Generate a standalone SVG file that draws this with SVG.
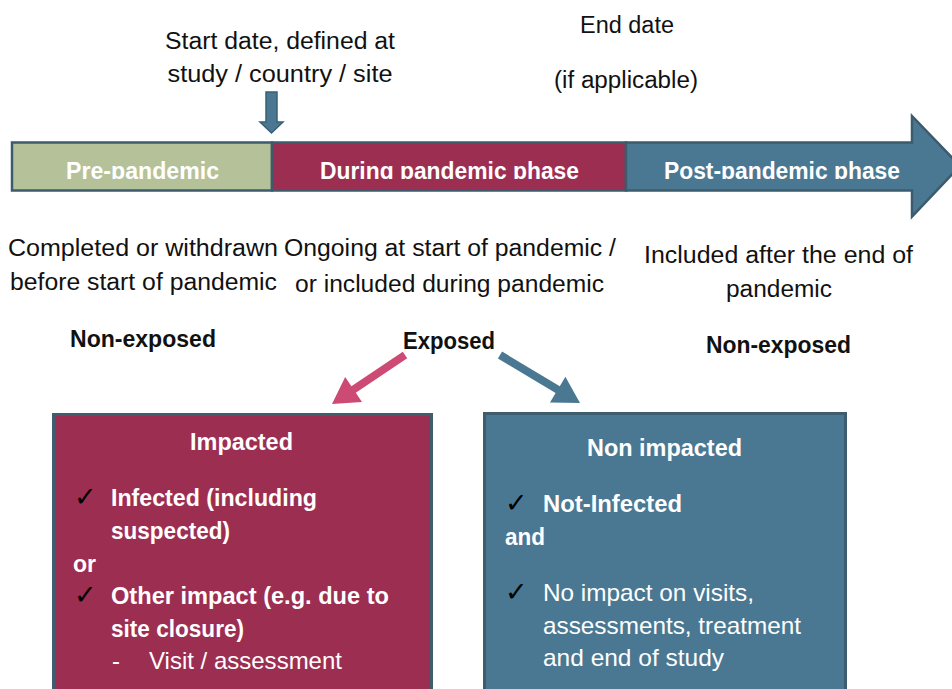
<svg xmlns="http://www.w3.org/2000/svg" width="952" height="689" viewBox="0 0 952 689">
  <style>
    text { font-family: "Liberation Sans", Arial, sans-serif; }
    .note { font-size: 23px; fill: #111; }
    .lbl { font-size: 23px; font-weight: bold; fill: #111; }
    .bar { font-size: 23px; font-weight: bold; fill: #ffffff; }
    .bt { font-size: 23px; font-weight: bold; fill: #ffffff; }
    .rt { font-size: 24px; fill: #ffffff; }
    .tick { font-family: "DejaVu Sans", sans-serif; font-size: 27px; fill: #000; }
    .seg { stroke: #3c5c6e; stroke-width: 2.5; }
    .box { stroke: #3e5e70; stroke-width: 3; }
  </style>
  <defs>
    <clipPath id="barTextClip">
      <rect x="0" y="140" width="952" height="39"/>
    </clipPath>
  </defs>

  <rect width="952" height="689" fill="#ffffff"/>

  <!-- start / end date notes -->
  <g id="start-date">
    <text class="note" x="280" y="49" text-anchor="middle" textLength="230" lengthAdjust="spacingAndGlyphs">Start date, defined at</text>
    <text class="note" x="280" y="82" text-anchor="middle" textLength="225" lengthAdjust="spacingAndGlyphs">study / country / site</text>
    <path d="M266,92 H277 V122 H283 L271.5,133 L260,122 H266 Z" fill="#4a7892" stroke="#3a5f75" stroke-width="1.5"/>
  </g>
  <g id="end-date">
    <text class="note" x="627" y="33" text-anchor="middle" textLength="94" lengthAdjust="spacingAndGlyphs">End date</text>
    <text class="note" x="626" y="88" text-anchor="middle" textLength="144" lengthAdjust="spacingAndGlyphs">(if applicable)</text>
  </g>

  <!-- timeline -->
  <g id="timeline">
    <rect class="seg" x="12" y="142.5" width="260" height="48" fill="#b5c299"/>
    <rect class="seg" x="272" y="142.5" width="354" height="48" fill="#9c2e52"/>
    <path class="seg" d="M626,142.5 H912 V116 L960,166 L912,216.5 V190.5 H626 Z" fill="#4a7892"/>
    <g clip-path="url(#barTextClip)">
      <text class="bar" x="142.5" y="179" text-anchor="middle" textLength="153" lengthAdjust="spacingAndGlyphs">Pre-pandemic</text>
      <text class="bar" x="449.5" y="179" text-anchor="middle" textLength="259" lengthAdjust="spacingAndGlyphs">During pandemic phase</text>
      <text class="bar" x="782" y="179" text-anchor="middle" textLength="236" lengthAdjust="spacingAndGlyphs">Post-pandemic phase</text>
    </g>
  </g>

  <!-- phase descriptions -->
  <g id="pre-desc">
    <text class="note" x="143" y="256" text-anchor="middle" textLength="270" lengthAdjust="spacingAndGlyphs">Completed or withdrawn</text>
    <text class="note" x="143.5" y="290" text-anchor="middle" textLength="267" lengthAdjust="spacingAndGlyphs">before start of pandemic</text>
    <text class="lbl" x="143" y="347" text-anchor="middle" textLength="146" lengthAdjust="spacingAndGlyphs">Non-exposed</text>
  </g>
  <g id="during-desc">
    <text class="note" x="450" y="256" text-anchor="middle" textLength="332" lengthAdjust="spacingAndGlyphs">Ongoing at start of pandemic /</text>
    <text class="note" x="449.5" y="292" text-anchor="middle" textLength="309" lengthAdjust="spacingAndGlyphs">or included during pandemic</text>
    <text class="lbl" x="449" y="349" text-anchor="middle" textLength="92" lengthAdjust="spacingAndGlyphs">Exposed</text>
  </g>
  <g id="post-desc">
    <text class="note" x="778.5" y="263" text-anchor="middle" textLength="269" lengthAdjust="spacingAndGlyphs">Included after the end of</text>
    <text class="note" x="779" y="297" text-anchor="middle" textLength="106" lengthAdjust="spacingAndGlyphs">pandemic</text>
    <text class="lbl" x="778.5" y="353" text-anchor="middle" textLength="145" lengthAdjust="spacingAndGlyphs">Non-exposed</text>
  </g>

  <!-- connectors from Exposed -->
  <g id="connectors">
    <polygon points="402.8,351.7 351.4,386.2 345.2,377.0 332,404 362.0,402.0 355.8,392.8 407.2,358.3" fill="#cc4a74"/>
    <polygon points="502.1,351.6 559.8,386.2 565.4,376.7 580,403 550.0,402.5 555.6,393.0 497.9,358.4" fill="#4a7892"/>
  </g>

  <!-- Impacted -->
  <g id="impacted">
    <rect class="box" x="53.5" y="414.5" width="378" height="290" fill="#9c2e52"/>
    <text class="bt" x="241.5" y="450" text-anchor="middle" textLength="103" lengthAdjust="spacingAndGlyphs">Impacted</text>
    <text class="tick" x="74" y="506">✓</text>
    <text class="bt" x="111" y="506" textLength="206" lengthAdjust="spacingAndGlyphs">Infected (including</text>
    <text class="bt" x="111" y="539" textLength="119" lengthAdjust="spacingAndGlyphs">suspected)</text>
    <text class="bt" x="73" y="572" textLength="23" lengthAdjust="spacingAndGlyphs">or</text>
    <text class="tick" x="74" y="604">✓</text>
    <text class="bt" x="111" y="604" textLength="278" lengthAdjust="spacingAndGlyphs">Other impact (e.g. due to</text>
    <text class="bt" x="111" y="637" textLength="133" lengthAdjust="spacingAndGlyphs">site closure)</text>
    <text class="rt" x="112" y="669">-</text>
    <text class="rt" x="149" y="669" textLength="193" lengthAdjust="spacingAndGlyphs">Visit / assessment</text>
  </g>

  <!-- Non impacted -->
  <g id="non-impacted">
    <rect class="box" x="484.5" y="413.5" width="361" height="290" fill="#4a7892"/>
    <text class="bt" x="664.5" y="456" text-anchor="middle" textLength="155" lengthAdjust="spacingAndGlyphs">Non impacted</text>
    <text class="tick" x="505" y="512">✓</text>
    <text class="bt" x="543" y="512" textLength="139" lengthAdjust="spacingAndGlyphs">Not-Infected</text>
    <text class="bt" x="505" y="545" textLength="40" lengthAdjust="spacingAndGlyphs">and</text>
    <text class="tick" x="505" y="601">✓</text>
    <text class="rt" x="543" y="601" textLength="211" lengthAdjust="spacingAndGlyphs">No impact on visits,</text>
    <text class="rt" x="543" y="634" textLength="258" lengthAdjust="spacingAndGlyphs">assessments, treatment</text>
    <text class="rt" x="543" y="666" textLength="181" lengthAdjust="spacingAndGlyphs">and end of study</text>
  </g>
</svg>
